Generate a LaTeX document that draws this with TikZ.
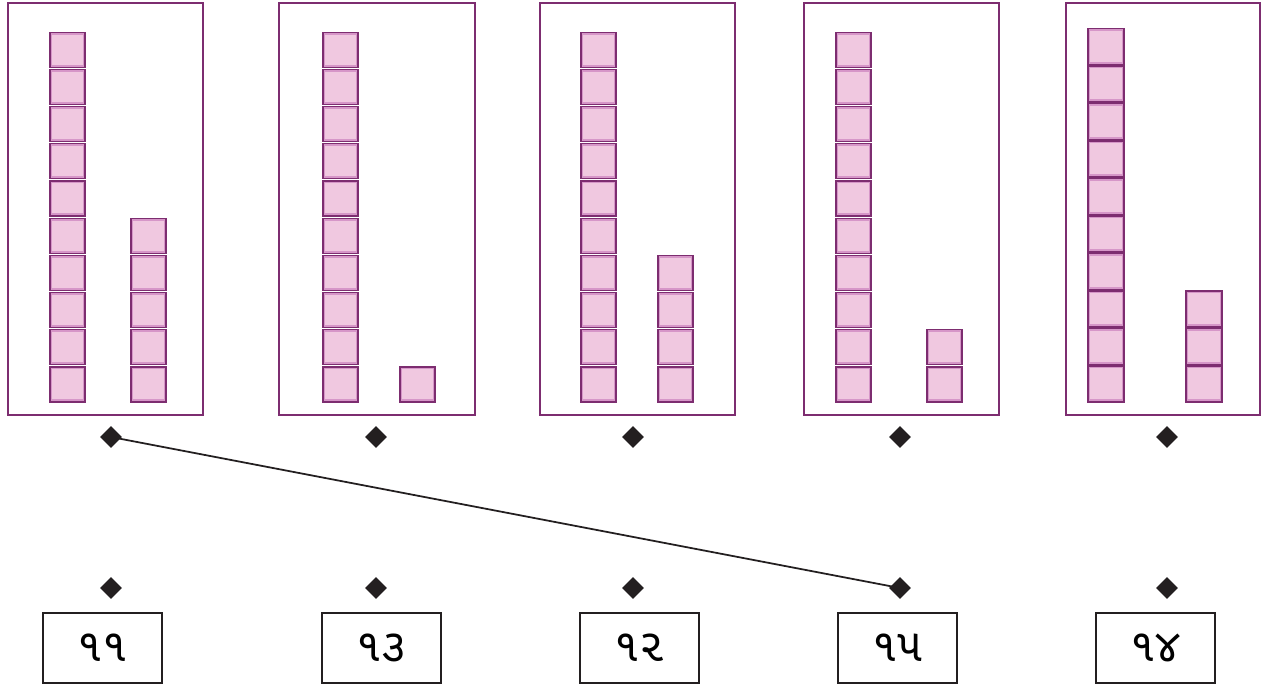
\documentclass[tikz,border=0pt]{standalone}
\usepackage{fontspec}
\newfontfamily\gujfont[Script=Gujarati]{Noto Sans Gujarati UI}
\usetikzlibrary{shapes.geometric}
\definecolor{plum}{RGB}{125,45,112}
\definecolor{cubepink}{RGB}{240,200,224}
\definecolor{cubeshade}{RGB}{214,150,200}
\definecolor{ink}{RGB}{35,31,32}
\tikzset{
  frame/.style={draw=plum, line width=1.1pt},
  cube/.style={fill=cubeshade, draw=plum, line width=0.6pt},
  cubetop/.style={fill=cubepink},
  dot/.style={diamond, fill=ink, inner sep=0pt, minimum size=0.44cm},
  numbox/.style={draw=ink, line width=0.9pt, minimum width=2.38cm, minimum height=1.4cm, font=\gujfont\fontsize{26}{30}\selectfont},
  link/.style={draw=ink, line width=1pt}
}
\begin{document}
\begin{tikzpicture}[x=0.02cm, y=-0.02cm]
\useasboundingbox (0,0) rectangle (1263,687);
% frames
\draw[frame] (8,3) rectangle (203,415);
\draw[frame] (279,3) rectangle (475,415);
\draw[frame] (540,3) rectangle (735,415);
\draw[frame] (804,3) rectangle (999,415);
\draw[frame] (1066,3) rectangle (1260,415);
% cubes
\foreach \cx/\n in {50/10,131/5,323/10,400/1,581/10,658/4,836/10,927/2}
  \foreach \k in {1,...,\n} {
    \draw[cube] (\cx,402-37.2*\k+2.2) rectangle +(35,35);
    \fill[cubetop] (\cx+2,402-37.2*\k+4.5) rectangle +(31,30);
  }
\foreach \cx/\n in {1088/10,1186/3}
  \foreach \k in {1,...,\n} {
    \draw[cube] (\cx,402-37.5*\k+1.5) rectangle +(36,36);
    \fill[cubetop] (\cx+2,402-37.5*\k+3.8) rectangle +(32,31);
  }
% diamonds
\foreach \i/\x in {1/111,2/376,3/633,4/900,5/1167} {
  \node[dot] (t\i) at (\x,437) {};
  \node[dot] (b\i) at (\x,588) {};
}
% number boxes
\node[numbox] (n1) at (102.5,648) {૧૧};
\node[numbox] (n2) at (381.5,648) {૧૩};
\node[numbox] (n3) at (639.5,648) {૧૨};
\node[numbox] (n4) at (897.5,648) {૧૫};
\node[numbox] (n5) at (1155.5,648) {૧૪};
% matched pair
\draw[link] (t1.center) -- (b4.center);
\end{tikzpicture}
\end{document}
